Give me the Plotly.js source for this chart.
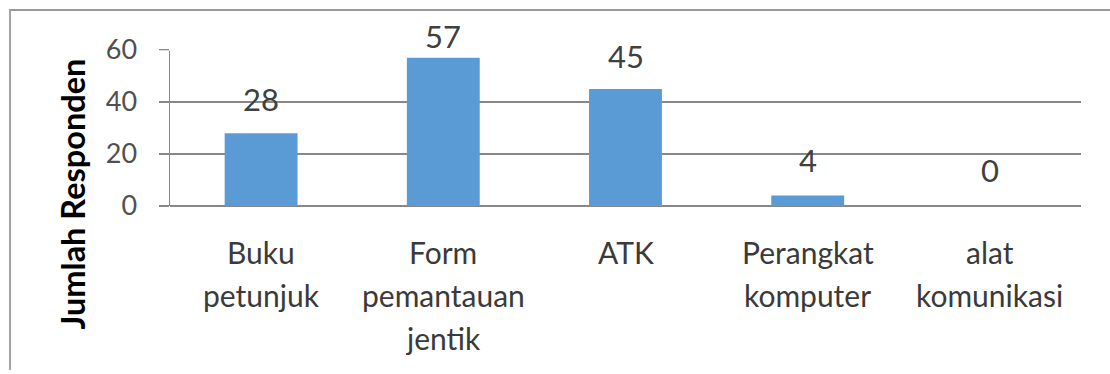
<!DOCTYPE html>
<html>
<head>
<meta charset="utf-8">
<script src="https://cdn.plot.ly/plotly-3.0.1.min.js"></script>
<style>
  html, body { margin: 0; padding: 0; background: #ffffff; }
  #wrap { position: relative; width: 1110px; height: 374px; overflow: hidden; }
  #chart { position: absolute; left: 0; top: 0; width: 1110px; height: 374px; }
  #frame { position: absolute; left: 9px; top: 9px; right: -5px; bottom: 4px;
           border-left: 2px solid #a3a3a3; border-top: 2px solid #9a9a9a;
           pointer-events: none; }
</style>
</head>
<body>
<div id="wrap">
  <div id="chart"></div>
  <div id="frame"></div>
</div>
<script>
// Jenis sarana yang dimiliki responden
const categories = ['Buku<br>petunjuk', 'Form<br>pemantauan<br>jentik', 'ATK', 'Perangkat<br>komputer', 'alat<br>komunikasi'];
const responden = [28, 57, 45, 4, 0];
const yTicks = [0, 20, 40, 60];
const yTitle = 'Jumlah Responden';

// label lift above each bar, in pixels
const labelLift = [34, 22, 33, 36, 36];

const W = 1110, H = 374;
const M = { l: 170, r: 29, t: 50, b: 168 };
const plotW = W - M.l - M.r;
const plotH = H - M.t - M.b;

const FONT = 'Lato, "Open Sans", sans-serif';
const GRID = '#888888';

const annotations = [];

// value labels above the bars
categories.forEach((c, i) => {
  annotations.push({
    x: c, y: responden[i], xref: 'x', yref: 'y',
    text: String(responden[i]), showarrow: false,
    yanchor: 'middle', yshift: labelLift[i],
    font: { family: FONT, size: 31, color: '#404040' }
  });
});

// category labels, one line per annotation for wider line spacing
const lineTop = 26, linePitch = 43;
categories.forEach((c) => {
  c.split('<br>').forEach((line, k) => {
    annotations.push({
      x: c, y: 0, xref: 'x', yref: 'paper',
      text: line, showarrow: false,
      xanchor: 'center', yanchor: 'top',
      yshift: -(lineTop + k * linePitch),
      font: { family: FONT, size: 30, color: '#3a3a3a' }
    });
  });
});

// y-axis title
annotations.push({
  x: (72 - M.l) / plotW, y: (M.t + plotH - 194.5) / plotH,
  xref: 'paper', yref: 'paper', xanchor: 'center', yanchor: 'middle',
  text: '<b>' + yTitle + '</b>', textangle: -90, showarrow: false,
  font: { family: FONT, size: 32.5, color: '#000000' }
});

const trace = {
  type: 'bar',
  x: categories,
  y: responden,
  marker: { color: '#5b9bd5', line: { width: 0 } },
  hoverinfo: 'x+y'
};

const layout = {
  width: W, height: H,
  margin: M,
  paper_bgcolor: '#ffffff',
  plot_bgcolor: '#ffffff',
  showlegend: false,
  bargap: 0.6,
  xaxis: {
    type: 'category',
    range: [-0.5, categories.length - 0.5],
    showticklabels: false, showgrid: false, zeroline: false, showline: false,
    ticks: ''
  },
  yaxis: {
    range: [0, 60],
    tickvals: yTicks,
    ticktext: yTicks.map(String),
    ticks: 'outside', ticklen: 10, tickwidth: 1.5, tickcolor: GRID,
    ticklabelstandoff: 16,
    showgrid: true, gridcolor: GRID, gridwidth: 1.5,
    zeroline: true, zerolinecolor: GRID, zerolinewidth: 1.5,
    showline: true, linecolor: GRID, linewidth: 1.5,
    tickfont: { family: FONT, size: 27, color: '#505050' }
  },
  shapes: [{
    // softer top gridline
    type: 'line', xref: 'paper', yref: 'y',
    x0: -12 / plotW, x1: 1, y0: 60, y1: 60,
    line: { color: 'rgba(255,255,255,0.72)', width: 2 },
    layer: 'above'
  }],
  annotations: annotations
};

Plotly.newPlot('chart', [trace], layout, { displayModeBar: false, staticPlot: true });
</script>
</body>
</html>
